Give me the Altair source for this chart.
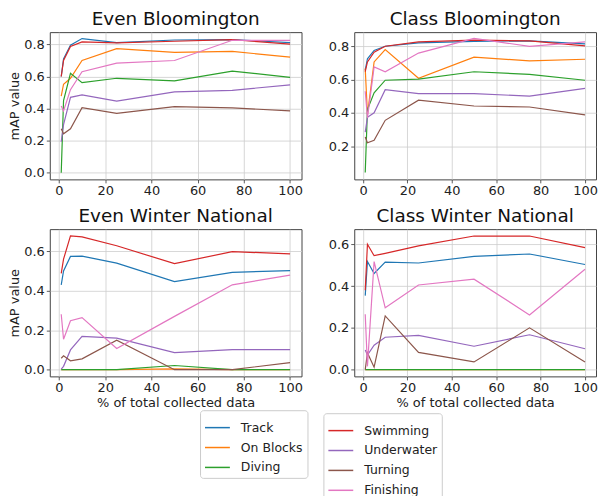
import altair as alt
import pandas as pd

X = [1, 2, 5, 10, 25, 50, 75, 100]
GROUP_A = ["Track", "On Blocks", "Diving"]
GROUP_B = ["Swimming", "Underwater", "Turning", "Finishing"]
COLORS_A = ["#1f77b4", "#ff7f0e", "#2ca02c"]
COLORS_B = ["#d62728", "#9467bd", "#8c564b", "#e377c2"]

even_bloomington = {
    "Track":      [0.600, 0.710, 0.795, 0.837, 0.812, 0.828, 0.830, 0.812],
    "On Blocks":  [0.477, 0.552, 0.589, 0.700, 0.774, 0.751, 0.757, 0.721],
    "Diving":     [0.000, 0.450, 0.620, 0.562, 0.589, 0.573, 0.634, 0.595],
    "Swimming":   [0.600, 0.700, 0.788, 0.816, 0.810, 0.820, 0.830, 0.802],
    "Underwater": [0.193, 0.300, 0.470, 0.485, 0.447, 0.504, 0.514, 0.548],
    "Turning":    [0.274, 0.243, 0.274, 0.406, 0.370, 0.412, 0.404, 0.386],
    "Finishing":  [0.416, 0.385, 0.518, 0.630, 0.684, 0.700, 0.826, 0.826],
}
class_bloomington = {
    "Track":      [0.657, 0.725, 0.775, 0.800, 0.820, 0.829, 0.833, 0.814],
    "On Blocks":  [0.667, 0.390, 0.706, 0.780, 0.608, 0.735, 0.712, 0.722],
    "Diving":     [0.042, 0.420, 0.520, 0.596, 0.603, 0.647, 0.631, 0.596],
    "Swimming":   [0.647, 0.706, 0.765, 0.800, 0.827, 0.837, 0.833, 0.802],
    "Underwater": [0.284, 0.373, 0.400, 0.539, 0.516, 0.516, 0.500, 0.547],
    "Turning":    [0.255, 0.220, 0.235, 0.355, 0.476, 0.441, 0.435, 0.388],
    "Finishing":  [0.530, 0.370, 0.676, 0.647, 0.759, 0.847, 0.800, 0.827],
}
even_winter = {
    "Track":      [0.430, 0.500, 0.574, 0.575, 0.540, 0.446, 0.493, 0.502],
    "On Blocks":  [0.000, 0.000, 0.000, 0.000, 0.000, 0.004, 0.000, 0.000],
    "Diving":     [0.000, 0.000, 0.000, 0.000, 0.000, 0.021, 0.000, 0.000],
    "Swimming":   [0.488, 0.560, 0.678, 0.673, 0.628, 0.537, 0.598, 0.587],
    "Underwater": [0.003, 0.017, 0.100, 0.169, 0.160, 0.086, 0.102, 0.102],
    "Turning":    [0.058, 0.070, 0.045, 0.055, 0.149, 0.000, 0.000, 0.036],
    "Finishing":  [0.281, 0.154, 0.248, 0.264, 0.107, 0.270, 0.430, 0.479],
}
class_winter = {
    "Track":      [0.354, 0.517, 0.460, 0.514, 0.510, 0.542, 0.553, 0.503],
    "On Blocks":  [0.000, 0.000, 0.000, 0.000, 0.000, 0.000, 0.000, 0.000],
    "Diving":     [0.000, 0.000, 0.000, 0.000, 0.000, 0.000, 0.000, 0.000],
    "Swimming":   [0.380, 0.600, 0.545, 0.556, 0.592, 0.639, 0.639, 0.584],
    "Underwater": [0.094, 0.070, 0.117, 0.155, 0.164, 0.112, 0.167, 0.100],
    "Turning":    [0.000, 0.080, 0.012, 0.257, 0.083, 0.037, 0.200, 0.037],
    "Finishing":  [0.265, 0.016, 0.517, 0.296, 0.405, 0.433, 0.262, 0.480],
}

X_TICKS = [0, 20, 40, 60, 80, 100]
XDOM = [-3.95, 104.95]
FONT = "DejaVu Sans"


def long_df(d):
    rows = []
    for name in GROUP_A + GROUP_B:
        for xv, yv in zip(X, d[name]):
            rows.append({"x": xv, "v": yv, "series": name})
    return pd.DataFrame(rows)


def panel(d, title, ydom, yvals, xtitle, ytitle, width):
    df = long_df(d)
    xenc = alt.X("x:Q", scale=alt.Scale(domain=XDOM, nice=False, zero=False),
                 axis=alt.Axis(values=X_TICKS), title=xtitle)
    yenc = alt.Y("v:Q", scale=alt.Scale(domain=ydom, nice=False, zero=False),
                 axis=alt.Axis(values=yvals, format=".1f"), title=ytitle)
    base = alt.Chart(df).encode(x=xenc, y=yenc, order="x:Q")
    la = base.transform_filter(
        alt.FieldOneOfPredicate(field="series", oneOf=GROUP_A)
    ).mark_line(strokeWidth=1.2, clip=True).encode(
        color=alt.Color("series:N", scale=alt.Scale(domain=GROUP_A, range=COLORS_A),
                        title=None,
                        legend=alt.Legend(orient="none", legendX=151, legendY=380))
    )
    lb = base.transform_filter(
        alt.FieldOneOfPredicate(field="series", oneOf=GROUP_B)
    ).mark_line(strokeWidth=1.2, clip=True).encode(
        stroke=alt.Stroke("series:N", scale=alt.Scale(domain=GROUP_B, range=COLORS_B),
                          title=None,
                          legend=alt.Legend(orient="none", legendX=275, legendY=383))
    )
    return alt.layer(la, lb).properties(width=width, height=148, title=title)


p1 = panel(even_bloomington, "Even Bloomington", [-0.042, 0.877],
           [0.0, 0.2, 0.4, 0.6, 0.8], None, "mAP value", 253)
p2 = panel(class_bloomington, "Class Bloomington", [0.0, 0.885],
           [0.2, 0.4, 0.6, 0.8], None, None, 243)
p3 = panel(even_winter, "Even Winter National", [-0.034, 0.712],
           [0.0, 0.2, 0.4, 0.6], "% of total collected data", "mAP value", 253)
p4 = panel(class_winter, "Class Winter National", [-0.032, 0.672],
           [0.0, 0.2, 0.4, 0.6], "% of total collected data", None, 243)

chart = alt.vconcat(
    alt.hconcat(p1, p2, spacing=24),
    alt.hconcat(p3, p4, spacing=24),
    spacing=8,
).properties(padding=0).configure_view(
    stroke="#444444", strokeWidth=1
).configure_axis(
    domain=False, grid=True, gridColor="#cccccc", gridWidth=0.8,
    tickColor="#333333", tickSize=3.5, tickWidth=0.8,
    labelFont=FONT, labelFontSize=13, labelColor="#222222", labelPadding=2,
    titleFont=FONT, titleFontSize=13, titleColor="#222222", titleFontWeight="normal",
    titlePadding=2,
).configure_title(
    font=FONT, fontSize=18.5, fontWeight="normal", color="#111111", anchor="middle", offset=0
).configure_legend(
    strokeColor="#cccccc", fillColor="white", padding=4, cornerRadius=3,
    labelFont=FONT, labelFontSize=12.5, labelColor="#222222",
    symbolType="stroke", symbolStrokeWidth=1.5, symbolSize=625, labelOffset=10,
    rowPadding=-1,
)

chart.save("out.html", embed_options={"renderer": "svg", "actions": False})
